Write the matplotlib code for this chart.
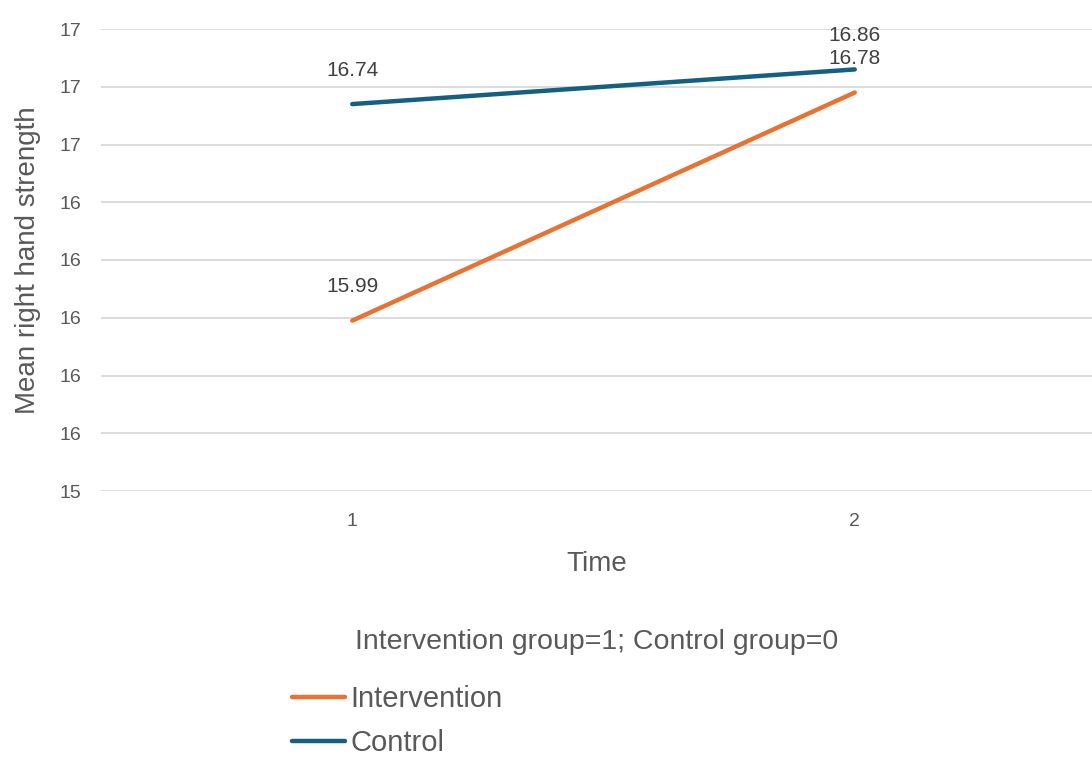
import matplotlib.pyplot as plt
from matplotlib.ticker import FuncFormatter
import numpy as np

# mean right hand strength by time point
times = ['1', '2']
intervention = [15.99, 16.78]
control = [16.74, 16.86]
y_ticks = [15.4, 15.6, 15.8, 16.0, 16.2, 16.4, 16.6, 16.8, 17.0]

orange = '#E97132'
blue = '#156082'
grey = '#595959'

plt.rcParams['font.family'] = ['Liberation Sans', 'DejaVu Sans']

W, H = 1092, 760
fig = plt.figure(figsize=(W / 100, H / 100), dpi=100)
# plot area runs a little past the right edge
ax = fig.add_axes([101 / W, 1 - 491 / H, 1005 / W, 462 / H])

x = np.arange(len(times))
ax.plot(x, intervention, color=orange, lw=3.2, solid_capstyle='round', label='Intervention')
ax.plot(x, control, color=blue, lw=3.2, solid_capstyle='round', label='Control')

for series in (intervention, control):
    for xi, v in zip(x, series):
        ax.annotate(f'{v:.2f}', (xi, v), xytext=(0, 24.5), textcoords='offset points',
                    ha='center', va='center', fontsize=15, color='#404040')

ax.set_xlim(-0.5, 1.5)
ax.set_ylim(15.4, 17.0)
ax.set_xticks(x)
ax.set_xticklabels(times)
ax.set_yticks(y_ticks)
ax.yaxis.set_major_formatter(FuncFormatter(lambda v, p: f'{v:.0f}'))
ax.grid(axis='y', color='#d9d9d9', lw=1.3)
ax.set_axisbelow(True)
for s in ax.spines.values():
    s.set_visible(False)
ax.tick_params(length=0, labelsize=14, labelcolor=grey)
ax.tick_params(axis='y', pad=14)
ax.tick_params(axis='x', pad=16)

fig.text(597 / W, 1 - 564 / H, 'Time', ha='center', va='center',
         fontsize=20, color=grey)
fig.text(28 / W, 1 - 260 / H, 'Mean right hand strength', ha='center', va='center',
         rotation=90, fontsize=20, color=grey)

fig.text(597 / W, 1 - 642 / H, 'Intervention group=1; Control group=0',
         ha='center', va='center', fontsize=20.5, color=grey)

fig.legend(loc='upper left', bbox_to_anchor=(292 / W, 1 - 685 / H),
           frameon=False, borderpad=0, borderaxespad=0,
           handlelength=1.8, handletextpad=0.2, labelspacing=0.55,
           prop={'size': 21}, labelcolor=grey)

fig.savefig('out.png', dpi=100)
